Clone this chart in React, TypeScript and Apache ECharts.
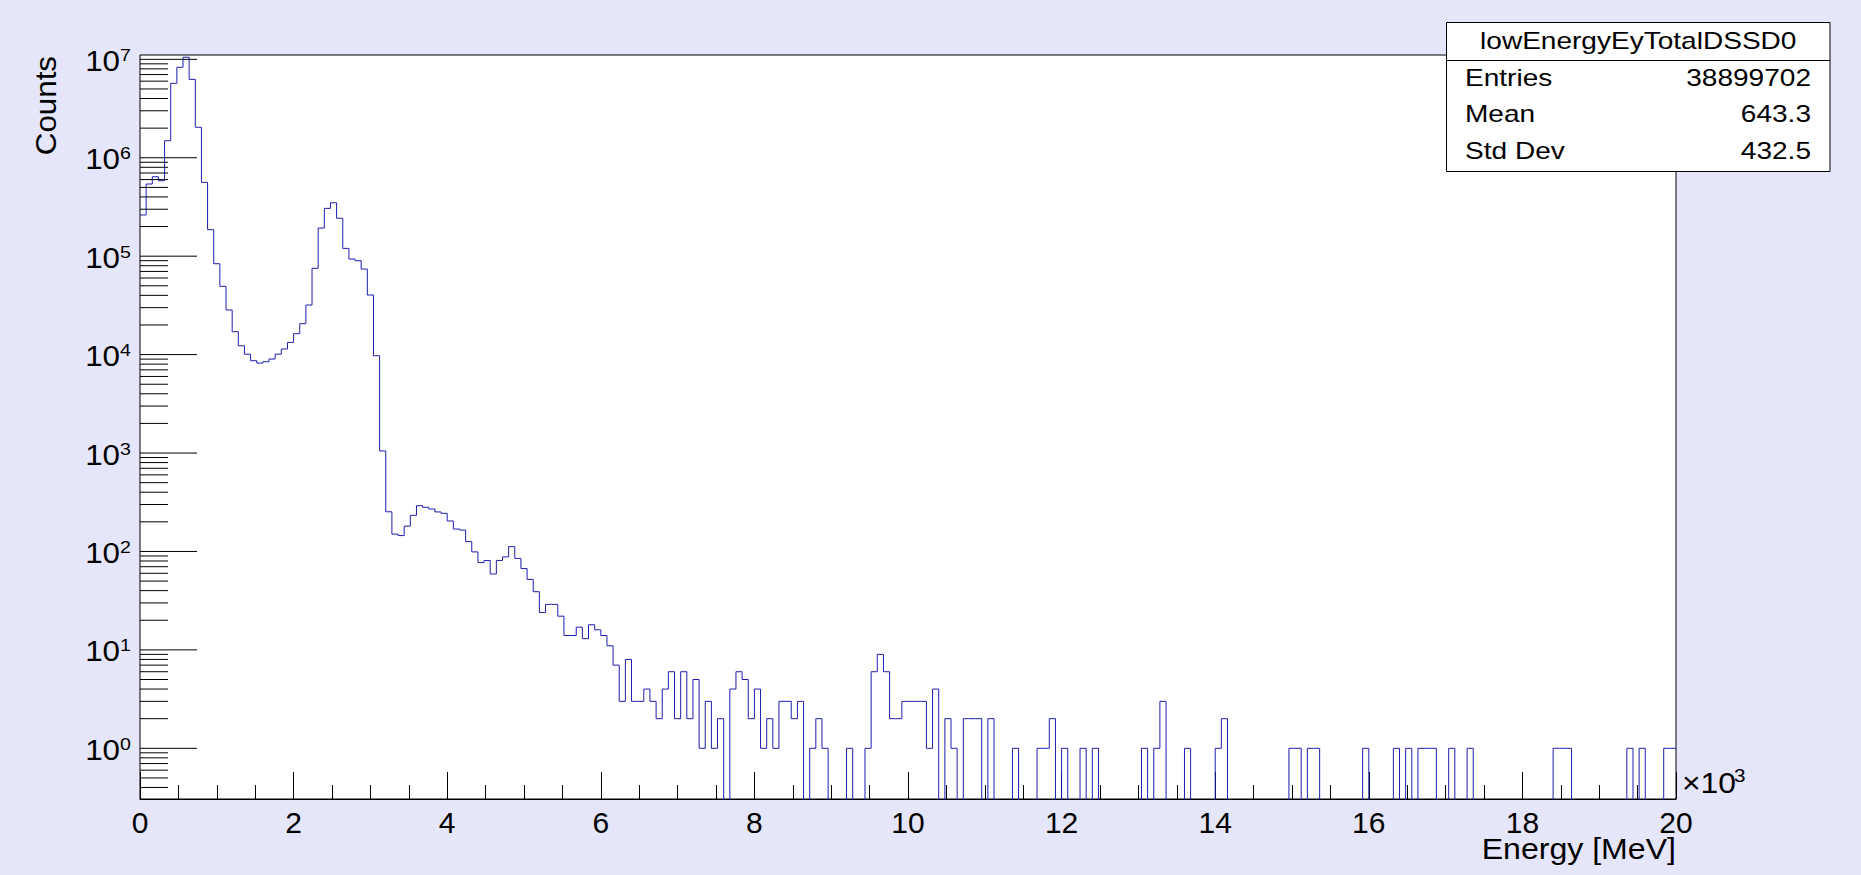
import React, { useEffect, useRef } from "react";
import * as echarts from "echarts";

// ---------- data ----------
const BIN_WIDTH = 80; // keV
const X_MIN = 0;
const X_MAX = 20000;
const COUNTS: number[] = [
  262000, 541000, 641000, 584000, 1490000, 5700000, 8300000, 10500000, 6260000, 2040000,
  562000, 186000, 83800, 49400, 28400, 17100, 12300, 10100, 8670, 8200,
  8470, 9020, 10100, 11400, 13300, 16300, 20600, 31900, 75300, 193000,
  306000, 349000, 243000, 120000, 93500, 90000, 74000, 40300, 9740, 1050,
  253, 150, 145, 181, 233, 292, 281, 270, 252, 244,
  204, 169, 165, 126, 99, 77, 81, 59, 81, 88,
  112, 85, 67, 52, 39, 24, 29, 29, 22, 14,
  14, 17, 13, 18, 16, 14, 11, 7, 3, 8,
  3, 3, 4, 3, 2, 4, 6, 2, 6, 2,
  5, 1, 3, 1, 2, 0, 4, 6, 5, 2,
  4, 1, 2, 1, 3, 3, 2, 3, 0, 1,
  2, 1, 0, 0, 0, 1, 0, 0, 1, 6,
  9, 6, 2, 2, 3, 3, 3, 3, 1, 4,
  0, 2, 1, 0, 2, 2, 2, 0, 2, 0,
  0, 0, 1, 0, 0, 0, 1, 1, 2, 0,
  1, 0, 0, 1, 0, 1, 0, 0, 0, 0,
  0, 0, 0, 1, 0, 1, 3, 0, 0, 0,
  1, 0, 0, 0, 0, 1, 2, 0, 0, 0,
  0, 0, 0, 0, 0, 0, 0, 1, 1, 0,
  1, 1, 0, 0, 0, 0, 0, 0, 0, 1,
  0, 0, 0, 0, 1, 0, 1, 0, 1, 1,
  1, 0, 0, 1, 0, 0, 1, 0, 0, 0,
  0, 0, 0, 0, 0, 0, 0, 0, 0, 0,
  1, 1, 1, 0, 0, 0, 0, 0, 0, 0,
  0, 0, 1, 0, 1, 0, 0, 0, 1, 1,
];

const Y_LOG_MIN = -0.515; // log10 of lower frame edge (~0.3 counts)
const Y_LOG_MAX = 7.044; // log10 of upper frame edge (~1.1e7 counts)
const Y_DECADES = [0, 1, 2, 3, 4, 5, 6, 7];
const Y_MINOR_MULT = [2, 3, 4, 5, 6, 7, 8, 9];
const X_TICK_INTERVAL = 2000;

const HIST_NAME = "lowEnergyEyTotalDSSD0";
const STATS_LABELS = ["Entries", "Mean", "Std Dev"];
const STATS_VALUES = ["38899702", "643.3", "432.5"];
const X_TITLE = "Energy [MeV]";
const Y_TITLE = "Counts";
const X_EXP = "3";

// ---------- styling ----------
const BG = "#e6e6fa";
const LINE_COLOR = "#1e1eb0";
const FONT = "Liberation Sans";

function buildHistData(): number[][] {
  const pts: number[][] = [];
  const toY = (c: number) => (c > 0 ? Math.log10(c) : Y_LOG_MIN - 3);
  COUNTS.forEach((c, i) => pts.push([X_MIN + i * BIN_WIDTH, toY(c)]));
  pts.push([X_MIN + COUNTS.length * BIN_WIDTH, toY(COUNTS[COUNTS.length - 1])]);
  return pts;
}

function buildYTicks(): number[][] {
  const ticks: number[][] = [];
  Y_DECADES.forEach((d) => ticks.push([X_MIN, d, 1, d]));
  for (let d = Y_DECADES[0] - 1; d <= Y_DECADES[Y_DECADES.length - 1]; d++) {
    Y_MINOR_MULT.forEach((m) => {
      const v = d + Math.log10(m);
      if (v > Y_LOG_MIN && v < Y_LOG_MAX) ticks.push([X_MIN, v, 0, d]);
    });
  }
  return ticks;
}

function buildOption(): any {
  const box = { x: 1446.5, y: 22.5, w: 383.5, h: 149, div: 60.5 };
  const rowY = [77.5, 114.3, 151];
  const statsChildren: any[] = [
    {
      type: "rect",
      shape: { x: box.x, y: box.y, width: box.w, height: box.h },
      style: { fill: "#ffffff", stroke: "#000000", lineWidth: 1 },
    },
    {
      type: "line",
      shape: { x1: box.x, y1: box.div, x2: box.x + box.w, y2: box.div },
      style: { stroke: "#000000", lineWidth: 1 },
    },
    {
      type: "text",
      x: box.x + box.w / 2,
      y: 41,
      scaleX: 1.22,
      style: { text: HIST_NAME, fontSize: 23, fontFamily: FONT, fill: "#000", align: "center", verticalAlign: "middle" },
    },
  ];
  STATS_LABELS.forEach((lab, i) => {
    statsChildren.push({
      type: "text",
      x: 1465,
      y: rowY[i],
      scaleX: 1.22,
      style: { text: lab, fontSize: 23, fontFamily: FONT, fill: "#000", align: "left", verticalAlign: "middle" },
    });
    statsChildren.push({
      type: "text",
      x: 1811,
      y: rowY[i],
      scaleX: 1.22,
      style: { text: STATS_VALUES[i], fontSize: 23, fontFamily: FONT, fill: "#000", align: "right", verticalAlign: "middle" },
    });
  });

  return {
    animation: false,
    backgroundColor: BG,
    textStyle: { fontFamily: FONT },
    grid: {
      left: 140,
      top: 55,
      width: 1536,
      height: 744,
      show: true,
      backgroundColor: "#ffffff",
      borderColor: "#000000",
      borderWidth: 1,
      containLabel: false,
      outerBoundsMode: "none",
    },
    xAxis: {
      type: "value",
      min: X_MIN,
      max: X_MAX,
      interval: X_TICK_INTERVAL,
      position: "bottom",
      axisLine: { show: true, onZero: false, lineStyle: { color: "#000", width: 1 } },
      axisTick: { show: true, inside: true, length: 27, lineStyle: { color: "#000", width: 1 } },
      minorTick: { show: true, splitNumber: 4, length: 14, lineStyle: { color: "#000", width: 1 } },
      splitLine: { show: false },
      minorSplitLine: { show: false },
      axisLabel: {
        show: true,
        margin: 8,
        fontSize: 30,
        color: "#000",
        fontFamily: FONT,
        showMinLabel: true,
        showMaxLabel: true,
        formatter: (v: number) => String(Math.round(v / 1000)),
      },
    },
    yAxis: {
      type: "value",
      min: Y_LOG_MIN,
      max: Y_LOG_MAX,
      axisLine: { show: false, onZero: false },
      axisTick: { show: false },
      axisLabel: { show: false },
      splitLine: { show: false },
    },
    graphic: [
      {
        type: "text",
        x: 1676,
        y: 849,
        scaleX: 1.07,
        style: { text: X_TITLE, fontSize: 30, fontFamily: FONT, fill: "#000", align: "right", verticalAlign: "middle" },
      },
      {
        type: "text",
        x: 46,
        y: 56,
        rotation: Math.PI / 2,
        scaleX: 1.08,
        style: { text: Y_TITLE, fontSize: 29, fontFamily: FONT, fill: "#000", align: "right", verticalAlign: "middle" },
      },
      {
        type: "text",
        x: 1682,
        y: 783,
        scaleX: 1.1,
        style: { text: "×10", fontSize: 29, fontFamily: FONT, fill: "#000", align: "left", verticalAlign: "middle" },
      },
      {
        type: "text",
        x: 1734,
        y: 775.5,
        scaleX: 1.15,
        style: { text: X_EXP, fontSize: 18, fontFamily: FONT, fill: "#000", align: "left", verticalAlign: "middle" },
      },
      { type: "group", z: 100, children: statsChildren },
    ],
    series: [
      {
        type: "line",
        name: HIST_NAME,
        data: buildHistData(),
        step: "end",
        symbol: "none",
        showSymbol: false,
        clip: true,
        z: 5,
        lineStyle: { color: LINE_COLOR, width: 1 },
      },
      {
        type: "custom",
        name: "yTicks",
        coordinateSystem: "cartesian2d",
        clip: false,
        silent: true,
        z: 6,
        data: buildYTicks(),
        renderItem: (_params: any, api: any) => {
          const v = api.value(1) as number;
          const major = api.value(2) === 1;
          const exp = api.value(3) as number;
          const p = api.coord([X_MIN, v]);
          const len = major ? 57 : 28;
          const children: any[] = [
            {
              type: "line",
              shape: { x1: p[0], y1: p[1], x2: p[0] + len, y2: p[1] },
              style: { stroke: "#000", lineWidth: 1 },
            },
          ];
          if (major) {
            children.push({
              type: "text",
              x: p[0] - 20,
              y: p[1] + 1.5,
              scaleX: 1.08,
              style: { text: "10", fontSize: 29, fontFamily: FONT, fill: "#000", align: "right", verticalAlign: "middle" },
            });
            children.push({
              type: "text",
              x: p[0] - 20,
              y: p[1] - 4.5,
              scaleX: 1.15,
              style: { text: String(exp), fontSize: 17, fontFamily: FONT, fill: "#000", align: "left", verticalAlign: "middle" },
            });
          }
          return { type: "group", children };
        },
      },
    ],
  };
}

export default function App() {
  const ref = useRef<HTMLDivElement>(null);
  useEffect(() => {
    if (!ref.current) return;
    const chart = echarts.init(ref.current, null, { renderer: "svg" });
    chart.setOption(buildOption());
    return () => chart.dispose();
  }, []);
  return (
    <div
      ref={ref}
      style={{ position: "fixed", left: 0, top: 0, width: 1861, height: 875, background: BG }}
    />
  );
}
